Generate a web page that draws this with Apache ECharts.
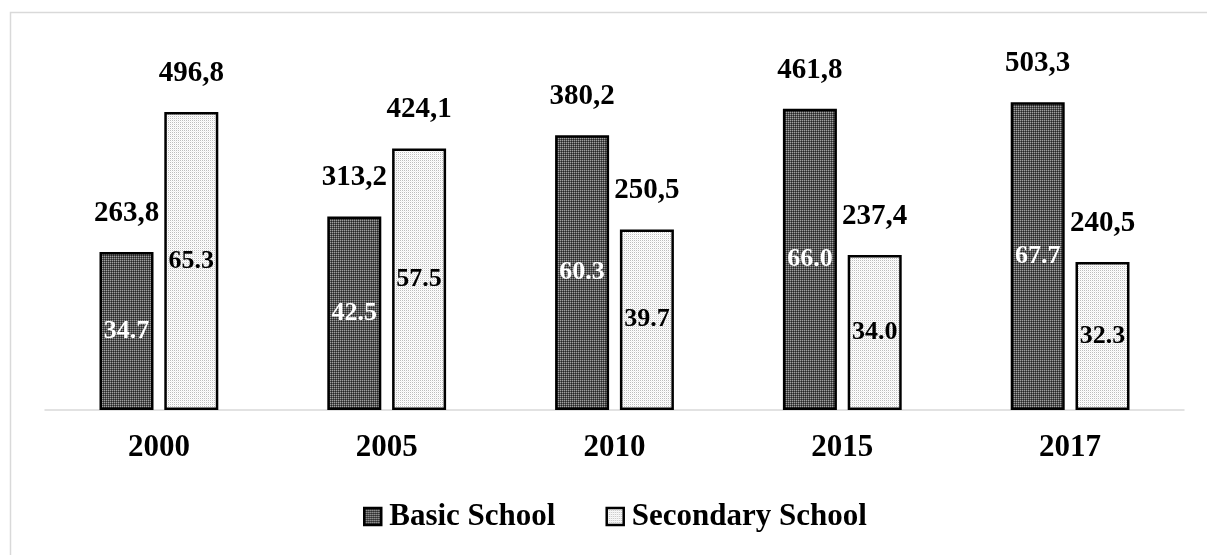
<!DOCTYPE html>
<html>
<head>
<meta charset="utf-8">
<script src="https://cdn.jsdelivr.net/npm/echarts@6/dist/echarts.min.js"></script>
<style>html,body{margin:0;padding:0;background:#fff;}#c{width:1207px;height:555px;}</style>
</head>
<body>
<div id="c"></div>
<script>
// ---- data ----
const years = ['2000', '2005', '2010', '2015', '2017'];
const seriesNames = ['Basic School', 'Secondary School'];
// bar heights as drawn (axis units)
const basicBars = [263.5, 322.5, 458, 502, 513];
const secondaryBars = [496.5, 436, 301, 258.5, 246.5];
// total labels shown above bars
const basicTotals = [263.8, 313.2, 380.2, 461.8, 503.3];
const secondaryTotals = [496.8, 424.1, 250.5, 237.4, 240.5];
// share labels shown inside bars (%)
const basicShares = [34.7, 42.5, 60.3, 66.0, 67.7];
const secondaryShares = [65.3, 57.5, 39.7, 34.0, 32.3];

const FONT = "'Liberation Serif', 'Times New Roman', serif";

function makePattern(bg, dot, dark) {
  const cv = document.createElement('canvas');
  cv.width = 4; cv.height = 4;
  const ctx = cv.getContext('2d');
  ctx.fillStyle = bg; ctx.fillRect(0, 0, 4, 4);
  ctx.fillStyle = dot;
  ctx.fillRect(0, 0, 1, 1); ctx.fillRect(2, 2, 1, 1);
  ctx.fillRect(2, 0, 1, 1); ctx.fillRect(0, 2, 1, 1);
  if (dark) {
    ctx.fillStyle = dark;
    ctx.fillRect(1, 1, 1, 1); ctx.fillRect(3, 3, 1, 1);
    ctx.fillRect(3, 1, 1, 1); ctx.fillRect(1, 3, 1, 1);
  }
  return { image: cv, repeat: 'repeat' };
}
const basicFill = makePattern('#555555', '#a0a0a0', '#262626');
const secondaryFill = makePattern('#ffffff', '#bdbdbd', '#f0f0f0');

const chart = echarts.init(document.getElementById('c'), null, { renderer: 'canvas' });

const commonBar = { barWidth: 54, barGap: '20%' };
const fmtComma = v => v.toFixed(1).replace('.', ',');

const option = {
  backgroundColor: '#fff',
  animation: false,
  textStyle: { fontFamily: FONT },
  graphic: [{
    type: 'rect', silent: true, z: -10,
    shape: { x: 10.5, y: 12.5, width: 1300, height: 700 },
    style: { fill: 'none', stroke: '#d9d9d9', lineWidth: 1.5 }
  }],
  grid: { left: 45, right: 23, top: 50, bottom: 145 },
  legend: {
    data: seriesNames.map(n => ({ name: n, icon: 'rect' })),
    left: 358, top: 496,
    itemWidth: 17, itemHeight: 17, itemGap: 50,
    itemStyle: { borderColor: '#000', borderWidth: 2.5 },
    textStyle: { fontFamily: FONT, fontWeight: 'bold', fontSize: 31, color: '#000', padding: [0, 0, 0, 3] },
    selectedMode: false
  },
  xAxis: [{
    type: 'category', data: years,
    axisLine: { lineStyle: { color: '#d9d9d9', width: 1.5 } },
    axisTick: { show: false },
    axisLabel: { fontFamily: FONT, fontWeight: 'bold', fontSize: 31, color: '#000', margin: 22 }
  }, {
    type: 'category', data: years, show: false
  }],
  yAxis: { type: 'value', min: 0, max: 600, show: false, splitLine: { show: false } },
  series: [
    Object.assign({
      name: seriesNames[0], type: 'bar', data: basicBars, xAxisIndex: 0,
      itemStyle: { color: basicFill, borderColor: '#000', borderWidth: 2.5 },
      label: {
        show: true, position: 'inside', color: '#fff', fontFamily: FONT,
        fontWeight: 'bold', fontSize: 26,
        formatter: p => basicShares[p.dataIndex].toFixed(1)
      }
    }, commonBar),
    Object.assign({
      name: seriesNames[1], type: 'bar', data: secondaryBars, xAxisIndex: 0,
      itemStyle: { color: secondaryFill, borderColor: '#000', borderWidth: 2.5 },
      label: {
        show: true, position: 'inside', color: '#000', fontFamily: FONT,
        fontWeight: 'bold', fontSize: 26,
        formatter: p => secondaryShares[p.dataIndex].toFixed(1)
      }
    }, commonBar),
    Object.assign({
      name: 'basicTotal', type: 'bar', data: basicBars, xAxisIndex: 1, silent: true,
      itemStyle: { color: 'rgba(0,0,0,0)' },
      label: {
        show: true, position: 'top', distance: 24, color: '#000', fontFamily: FONT,
        fontWeight: 'bold', fontSize: 29,
        formatter: p => fmtComma(basicTotals[p.dataIndex])
      }
    }, commonBar),
    Object.assign({
      name: 'secondaryTotal', type: 'bar', data: secondaryBars, xAxisIndex: 1, silent: true,
      itemStyle: { color: 'rgba(0,0,0,0)' },
      label: {
        show: true, position: 'top', distance: 24, color: '#000', fontFamily: FONT,
        fontWeight: 'bold', fontSize: 29,
        formatter: p => fmtComma(secondaryTotals[p.dataIndex])
      }
    }, commonBar)
  ]
};
chart.setOption(option);
</script>
</body>
</html>
